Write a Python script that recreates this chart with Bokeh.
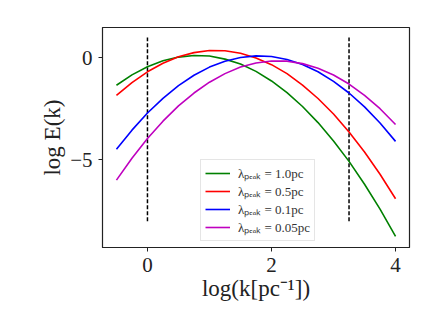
from bokeh.plotting import figure
from bokeh.models import FixedTicker, Legend, LegendItem, Range1d
from bokeh.embed import file_html
from bokeh.resources import INLINE

# log k values (x)
logk = [-0.5, -0.25, 0.0, 0.25, 0.5, 0.75, 1.0, 1.25, 1.5, 1.75, 2.0,
        2.25, 2.5, 2.75, 3.0, 3.25, 3.5, 3.75, 4.0]

# log E(k) for each peak wavelength
E_1p0 = [-1.34, -0.83, -0.43, -0.14, 0.04, 0.12, 0.09, -0.06, -0.30, -0.66, -1.13,
         -1.70, -2.38, -3.17, -4.07, -5.07, -6.19, -7.41, -8.74]
E_0p5 = [-1.84, -1.21, -0.68, -0.26, 0.06, 0.26, 0.36, 0.35, 0.23, 0.00, -0.33,
         -0.77, -1.33, -1.99, -2.75, -3.63, -4.61, -5.70, -6.90]
E_0p1 = [-4.48, -3.54, -2.70, -1.98, -1.36, -0.85, -0.45, -0.16, 0.02, 0.10, 0.07,
         -0.08, -0.32, -0.68, -1.15, -1.72, -2.40, -3.19, -4.09]
E_0p05 = [-5.99, -4.92, -3.95, -3.10, -2.35, -1.72, -1.19, -0.77, -0.45, -0.25, -0.15,
          -0.16, -0.28, -0.51, -0.84, -1.28, -1.84, -2.49, -3.26]

labels = ["λₚₑₐₖ = 1.0pc", "λₚₑₐₖ = 0.5pc", "λₚₑₐₖ = 0.1pc", "λₚₑₐₖ = 0.05pc"]
colors = ["#008000", "#ff0000", "#0000ff", "#bf00bf"]

# vertical dashed markers
vline_x = [0.0, 3.25]
vline_y = [-8.0, 1.0]

x_ticks = [0, 2, 4]
y_ticks = [-5, 0]

FONT = "Liberation Serif"

p = figure(width=420, height=311, output_backend="svg", toolbar_location=None,
           x_range=Range1d(-0.725, 4.225), y_range=Range1d(-9.29, 1.49),
           min_border_left=102, min_border_right=11, min_border_top=27,
           min_border_bottom=64)

p.xgrid.visible = False
p.ygrid.visible = False
p.outline_line_color = "#222222"
p.outline_line_width = 1.2

for vx in vline_x:
    p.line([vx, vx], vline_y, line_color="black", line_width=1.5, line_dash="4 2")

series = [E_1p0, E_0p5, E_0p1, E_0p05]
items = []
for ys, lab, col in zip(series, labels, colors):
    r = p.line(logk, ys, line_color=col, line_width=1.6)
    items.append(LegendItem(label=lab, renderers=[r]))

legend = Legend(items=items, location=(98, 6))
legend.label_text_font = FONT
legend.label_text_font_size = "13px"
legend.label_text_color = "#333333"
legend.glyph_width = 25
legend.glyph_height = 12
legend.label_height = 12
legend.spacing = 0
legend.padding = 4
legend.margin = 0
legend.border_line_color = "#cccccc"
legend.border_line_width = 1
legend.background_fill_alpha = 0.85
legend.label_standoff = 8
p.add_layout(legend, "center")

for ax in (p.xaxis[0], p.yaxis[0]):
    ax.axis_line_color = "#222222"
    ax.major_tick_line_color = "#222222"
    ax.major_tick_out = 4
    ax.major_tick_in = 0
    ax.minor_tick_line_color = None
    ax.major_label_text_font = FONT
    ax.major_label_text_font_size = "21px"
    ax.major_label_text_color = "#222222"
    ax.axis_label_text_font = FONT
    ax.axis_label_text_font_size = "23px"
    ax.axis_label_text_font_style = "normal"
    ax.axis_label_text_color = "#222222"

p.xaxis.ticker = FixedTicker(ticks=x_ticks)
p.yaxis.ticker = FixedTicker(ticks=y_ticks)
p.yaxis.major_label_overrides = {-5: "−5", 0: "0"}
p.xaxis.axis_label = "log(k[pc⁻¹])"
p.yaxis.axis_label = "log E(k)"
p.xaxis.major_label_standoff = 6
p.yaxis.major_label_standoff = 6
p.xaxis.axis_label_standoff = 1
p.yaxis.axis_label_standoff = 2

open("out.html", "w").write(file_html(p, INLINE))
